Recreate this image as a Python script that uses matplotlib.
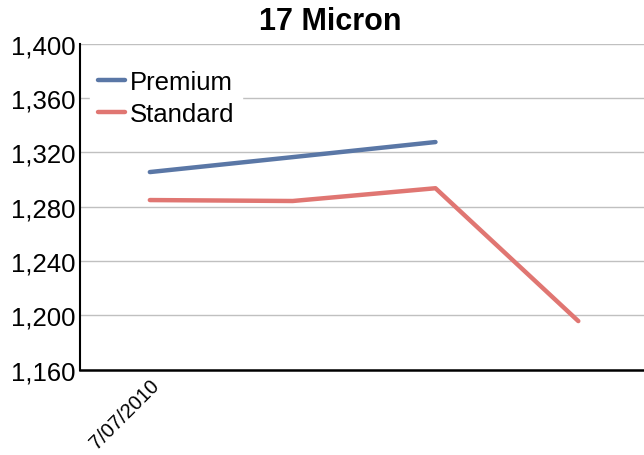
import matplotlib
matplotlib.use("Agg")
import matplotlib.pyplot as plt

plt.rcParams['font.family'] = ['Liberation Sans', 'DejaVu Sans']

# category positions (only the first date is labelled in the source chart)
categories = [0, 1, 2, 3]
tick_labels = ["7/07/2010", "", "", ""]

premium = [1305.5, 1316.5, 1327.6]
standard = [1284.9, 1284.2, 1293.6, 1195.8]

fig = plt.figure(figsize=(6.44, 4.56), dpi=100)
ax = fig.add_axes([0.124, 0.187, 0.876, 0.715])

ax.plot(categories[:len(premium)], premium, color="#5a77a6", lw=3.2,
        label="Premium", solid_capstyle="round")
ax.plot(categories, standard, color="#e07672", lw=3.2,
        label="Standard", solid_capstyle="round")

ax.set_ylim(1160, 1400)
ax.set_xlim(-0.49, 3.46)
ax.set_yticks(range(1160, 1401, 40))
ax.set_yticklabels([f"{v:,}" for v in range(1160, 1401, 40)], fontsize=18.5)
ax.set_xticks(categories)
ax.set_xticklabels(tick_labels, rotation=45, ha="right", rotation_mode="anchor",
                   fontsize=14.5)
ax.tick_params(axis="both", length=0, pad=3)
ax.tick_params(axis="x", pad=4)
for lbl in ax.get_xticklabels():
    lbl.set_x(lbl.get_position()[0])

ax.grid(axis="y", color="#c0c0c0", lw=1)
ax.set_axisbelow(True)
for s in ["top", "right"]:
    ax.spines[s].set_visible(False)
ax.spines["left"].set_linewidth(1.5)
ax.spines["bottom"].set_linewidth(1.8)

leg = ax.legend(loc="upper left", bbox_to_anchor=(0.0, 0.975), fontsize=18.5,
                frameon=True, fancybox=False, framealpha=1, edgecolor="white",
                handlelength=1.05, handletextpad=0.2, labelspacing=0.3,
                borderpad=0.3, borderaxespad=0.4)

fig.suptitle("17 Micron", x=0.513, y=0.985, fontsize=22, fontweight="bold")

fig.savefig("out.png", dpi=100)
